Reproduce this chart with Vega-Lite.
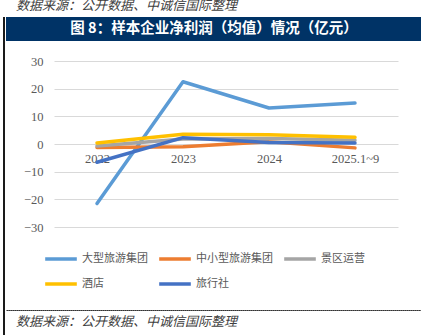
{
  "$schema": "https://vega.github.io/schema/vega-lite/v6.json",
  "padding": {"left": 3, "top": 0, "right": 0, "bottom": 0},
  "background": "white",
  "spacing": 0,
  "config": {"view": {"stroke": null}, "font": "Noto Sans CJK SC"},
  "resolve": {"legend": {"color": "independent"}},
  "hconcat": [
    {
      "width": 2,
      "height": 335,
      "data": {"values": []},
      "mark": "point",
      "encoding": {},
      "view": {"fill": "#1a1a1a"}
    },
    {
      "resolve": {"legend": {"color": "independent"}},
      "vconcat": [
        {
          "width": 416,
          "height": 24,
          "view": {"fill": "#003366"},
          "title": {"text": "数据来源：公开数据、中诚信国际整理", "anchor": "start", "fontSize": 13, "fontStyle": "italic", "fontWeight": "normal", "color": "#404040", "dx": 10, "offset": 4},
          "data": {"values": [{"t": "图 8：样本企业净利润（均值）情况（亿元）"}]},
          "mark": {"type": "text", "color": "white", "fontSize": 14.5, "fontWeight": "bold", "font": "Noto Sans CJK SC"},
          "encoding": {"text": {"field": "t"}}
        },
        {
          "width": 416,
          "height": 166,
          "data": {"values": [
            {"period": "2022", "series": "大型旅游集团", "value": -21.5},
            {"period": "2023", "series": "大型旅游集团", "value": 22.5},
            {"period": "2024", "series": "大型旅游集团", "value": 13.0},
            {"period": "2025.1~9", "series": "大型旅游集团", "value": 14.8},
            {"period": "2022", "series": "中小型旅游集团", "value": -1.3},
            {"period": "2023", "series": "中小型旅游集团", "value": -1.0},
            {"period": "2024", "series": "中小型旅游集团", "value": 0.8},
            {"period": "2025.1~9", "series": "中小型旅游集团", "value": -1.4},
            {"period": "2022", "series": "景区运营", "value": -0.7},
            {"period": "2023", "series": "景区运营", "value": 1.8},
            {"period": "2024", "series": "景区运营", "value": 2.0},
            {"period": "2025.1~9", "series": "景区运营", "value": 1.4},
            {"period": "2022", "series": "酒店", "value": 0.4},
            {"period": "2023", "series": "酒店", "value": 3.5},
            {"period": "2024", "series": "酒店", "value": 3.3},
            {"period": "2025.1~9", "series": "酒店", "value": 2.4},
            {"period": "2022", "series": "旅行社", "value": -6.6},
            {"period": "2023", "series": "旅行社", "value": 2.3},
            {"period": "2024", "series": "旅行社", "value": 0.5},
            {"period": "2025.1~9", "series": "旅行社", "value": 0.4}
          ]},
          "mark": {"type": "line", "strokeWidth": 3.5, "strokeCap": "round", "strokeJoin": "round"},
          "encoding": {
            "x": {
              "field": "period", "type": "ordinal", "sort": null,
              "scale": {"type": "point", "range": [48, 392], "padding": 0.5},
              "axis": {"title": null, "orient": "bottom", "offset": -83, "domain": false, "ticks": false, "labelAngle": 0, "labelPadding": 8, "labelFont": "Liberation Serif", "labelFontSize": 12.5, "labelColor": "#595959", "grid": false, "zindex": 0}
            },
            "y": {
              "field": "value", "type": "quantitative",
              "scale": {"domain": [-30, 30], "nice": false, "zero": false},
              "axis": {"title": null, "values": [-30, -20, -10, 0, 10, 20, 30], "offset": -48, "domain": false, "ticks": false, "labelPadding": 11, "labelFont": "Liberation Serif", "labelFontSize": 12.5, "labelColor": "#595959", "gridColor": "#D9D9D9", "gridWidth": 1, "zindex": 0}
            },
            "color": {
              "field": "series", "type": "nominal",
              "sort": ["大型旅游集团", "中小型旅游集团", "景区运营", "酒店", "旅行社"],
              "scale": {"domain": ["大型旅游集团", "中小型旅游集团", "景区运营", "酒店", "旅行社"], "range": ["#5B9BD5", "#ED7D31", "#A5A5A5", "#FFC000", "#4472C4"]},
              "legend": {"title": null, "orient": "none", "legendX": 33, "legendY": 176, "direction": "horizontal", "columns": 3, "symbolType": "stroke", "symbolSize": 1000, "symbolStrokeWidth": 3.5, "labelFontSize": 11, "labelColor": "#595959", "labelFont": "Noto Sans CJK SC", "columnPadding": 4, "rowPadding": -10, "labelOffset": 3, "padding": 4}
            }
          }
        },
        {
          "width": 416,
          "height": 0.01,
          "view": {"stroke": "#333333", "strokeDash": [2, 2], "strokeWidth": 1},
          "data": {"values": []},
          "mark": "point",
          "encoding": {},
          "title": {"text": "数据来源：公开数据、中诚信国际整理", "orient": "bottom", "anchor": "start", "dx": 10, "fontSize": 13, "fontStyle": "italic", "fontWeight": "normal", "color": "#404040", "offset": 6}
        }
      ],
      "spacing": 14
    }
  ]
}
